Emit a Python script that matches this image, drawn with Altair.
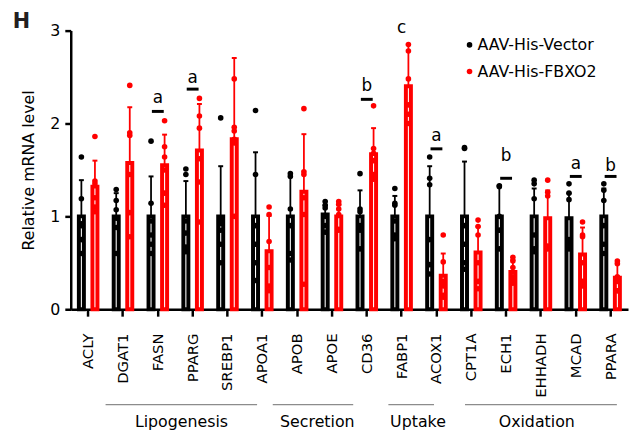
import altair as alt
import pandas as pd

genes = ["ACLY", "DGAT1", "FASN", "PPARG", "SREBP1", "APOA1", "APOB", "APOE",
         "CD36", "FABP1", "ACOX1", "CPT1A", "ECH1", "EHHADH", "MCAD", "PPARA"]
groups = ["AAV-His-Vector", "AAV-His-FBXO2"]
colors = ["#000000", "#ff0000"]

vec_mean = [1.0, 1.0, 1.0, 1.0, 1.0, 1.0, 1.0, 1.02, 1.0, 1.0, 1.0, 1.0, 1.0, 1.0, 0.98, 1.0]
vec_err = [0.39, 0.25, 0.43, 0.38, 0.54, 0.69, 0.44, 0.10, 0.28, 0.22, 0.54, 0.59, 0.33, 0.30, 0.27, 0.30]
fbx_mean = [1.32, 1.575, 1.55, 1.71, 1.83, 0.625, 1.265, 1.0, 1.67, 2.40, 0.36, 0.61, 0.40, 0.98, 0.59, 0.34]
fbx_err = [0.28, 0.60, 0.33, 0.50, 0.875, 0.38, 0.62, 0.12, 0.28, 0.45, 0.24, 0.28, 0.13, 0.30, 0.29, 0.16]

vec_pts = [
    [1.64, 1.19, 0.92, 0.90, 0.75, 0.60],
    [1.29, 1.17, 1.07, 0.98, 0.88, 0.60],
    [1.81, 1.14, 0.95, 0.80, 0.70, 0.60],
    [1.51, 1.45, 0.95, 0.82, 0.67, 0.62],
    [2.06, 0.97, 0.92, 0.85, 0.70, 0.50],
    [2.14, 1.45, 0.90, 0.70, 0.50, 0.31],
    [1.46, 1.43, 1.08, 0.90, 0.60, 0.53],
    [1.16, 1.12, 1.09, 1.00, 0.90, 0.83],
    [1.46, 1.08, 1.05, 0.90, 0.85, 0.65],
    [1.30, 1.14, 1.12, 0.95, 0.80, 0.76],
    [1.64, 1.41, 1.34, 0.75, 0.48, 0.38],
    [1.74, 1.73, 0.90, 0.70, 0.50, 0.43],
    [1.33, 1.32, 1.00, 0.85, 0.85, 0.65],
    [1.39, 1.35, 1.19, 0.80, 0.65, 0.62],
    [1.35, 1.25, 1.18, 0.75, 0.70, 0.65],
    [1.35, 1.28, 1.17, 0.90, 0.70, 0.60],
]
fbx_pts = [
    [1.86, 1.38, 1.35, 1.20, 1.10, 1.05],
    [2.41, 1.90, 1.87, 1.45, 1.04, 0.78],
    [2.03, 1.75, 1.64, 1.50, 1.25, 1.12],
    [2.27, 2.08, 1.95, 1.62, 1.37, 0.94],
    [2.48, 1.96, 1.92, 1.83, 1.79, 1.00],
    [1.10, 1.02, 0.73, 0.45, 0.25, 0.20],
    [2.16, 1.48, 1.45, 1.20, 1.02, 0.27],
    [1.16, 1.13, 1.08, 1.02, 0.86, 0.85],
    [2.19, 1.73, 1.68, 1.60, 1.45, 1.40],
    [2.85, 2.78, 2.48, 2.20, 2.10, 2.00],
    [0.80, 0.51, 0.30, 0.25, 0.15, 0.13],
    [0.96, 0.89, 0.80, 0.50, 0.30, 0.22],
    [0.56, 0.52, 0.45, 0.35, 0.30, 0.28],
    [1.39, 1.26, 1.22, 0.68, 0.66, 0.65],
    [0.94, 0.80, 0.78, 0.50, 0.30, 0.25],
    [0.52, 0.49, 0.35, 0.30, 0.20, 0.20],
]

sig_genes = ["FASN", "PPARG", "CD36", "FABP1", "ACOX1", "ECH1", "MCAD", "PPARA"]
sig_letters = ["a", "a", "b", "c", "a", "b", "a", "b"]
sig_text_y = [2.22, 2.44, 2.345, 2.975, 1.81, 1.60, 1.515, 1.49]
sig_bar_genes = ["FASN", "PPARG", "CD36", "ACOX1", "ECH1", "MCAD", "PPARA"]
sig_bar_y = [2.13, 2.37, 2.26, 1.727, 1.41, 1.43, 1.43]

group_names = ["Lipogenesis", "Secretion", "Uptake", "Oxidation"]
group_start = [1.0, 5.80, 9.12, 11.32]
group_end = [5.35, 8.11, 10.43, 15.68]
group_center = [3.18, 7.08, 9.97, 13.38]

# legend entries (position in category units / y units)
legend_x = [11.45, 11.45]
legend_y = [2.846, 2.559]

# ---- tables ----
bar_rows, pt_rows = [], []
for i, g in enumerate(genes):
    bar_rows.append(dict(gene=g, grp=groups[0], mean=vec_mean[i], top=vec_mean[i] + vec_err[i]))
    bar_rows.append(dict(gene=g, grp=groups[1], mean=fbx_mean[i], top=fbx_mean[i] + fbx_err[i]))
    for v in vec_pts[i]:
        pt_rows.append(dict(gene=g, cond=groups[0], value=v))
    for v in fbx_pts[i]:
        pt_rows.append(dict(gene=g, cond=groups[1], value=v))
bars_df = pd.DataFrame(bar_rows)
pts_df = pd.DataFrame(pt_rows)
sig_df = pd.DataFrame(dict(gene=sig_genes, letter=sig_letters, ty=sig_text_y))
sigbar_df = pd.DataFrame(dict(gene=sig_bar_genes, by=sig_bar_y))
grp_df = pd.DataFrame(dict(name=group_names, start=group_start, end=group_end, center=group_center))
leg_df = pd.DataFrame(dict(cond=groups, lx=legend_x, ly=legend_y))
h_df = pd.DataFrame(dict(t=["H"]))

W, HGT = 564, 282
FONT = "DejaVu Sans"

x_enc = alt.X("gene:N", sort=genes, title=None,
              scale=alt.Scale(domain=genes, paddingInner=0, paddingOuter=0),
              axis=alt.Axis(labelAngle=-90, labelPadding=17, tickSize=7))
off_scale = alt.Scale(domain=groups, paddingInner=0.63, paddingOuter=0.6)
xoff_bar = alt.XOffset("grp:N", sort=groups, scale=off_scale)
xoff_pt = alt.XOffset("cond:N", sort=groups, scale=off_scale)
yscale = alt.Scale(domain=[0, 3], nice=False, zero=True)
yaxis = alt.Axis(values=[0, 1, 2, 3], labelPadding=5, titlePadding=14, labelFontSize=16)


def yenc(field):
    return alt.Y(field, scale=yscale, axis=yaxis, title="Relative mRNA level")


cscale = alt.Scale(domain=groups, range=colors)

bars = alt.Chart(bars_df).mark_bar(fill="white", strokeWidth=4).encode(
    x=x_enc, xOffset=xoff_bar, y=yenc("mean:Q"),
    stroke=alt.Stroke("grp:N", scale=cscale, legend=None))

err = alt.Chart(bars_df).mark_rule(strokeWidth=1.8).encode(
    x=x_enc, xOffset=xoff_bar, y=yenc("mean:Q"), y2="top:Q",
    stroke=alt.Stroke("grp:N", scale=cscale, legend=None))

caps = alt.Chart(bars_df).mark_tick(size=5, thickness=2, opacity=1).encode(
    x=x_enc, xOffset=xoff_bar, y=yenc("top:Q"),
    fill=alt.Fill("grp:N", scale=cscale, legend=None))

points = alt.Chart(pts_df).mark_circle(size=32, opacity=1).encode(
    x=x_enc, xOffset=xoff_pt, y=yenc("value:Q"),
    color=alt.Color("cond:N", scale=cscale, sort=groups, legend=None))

sigbars = alt.Chart(sigbar_df).mark_tick(size=12, thickness=3, color="black", opacity=1).encode(
    x=x_enc, y=yenc("by:Q"))

sigtext = alt.Chart(sig_df).mark_text(fontSize=17, font=FONT, baseline="alphabetic", color="black").encode(
    x=x_enc, y=yenc("ty:Q"), text="letter:N")

main = alt.layer(bars, err, caps, points, sigbars, sigtext)

qscale = alt.Scale(domain=[0, 16], nice=False, zero=False)
glines = alt.Chart(grp_df).mark_rule(color="#8c8c8c", strokeWidth=1.2).encode(
    x=alt.X("start:Q", scale=qscale, axis=None), x2="end:Q", y=alt.value(378.5))
gtext = alt.Chart(grp_df).mark_text(fontSize=16, font=FONT, baseline="middle", color="black").encode(
    x=alt.X("center:Q", scale=qscale, axis=None), y=alt.value(396), text="name:N")
htext = alt.Chart(h_df).mark_text(fontSize=21, font=FONT, fontWeight="bold", baseline="middle",
                                  align="center", color="#231f20").encode(
    x=alt.value(-50), y=alt.value(-9), text="t:N")
leg_pts = alt.Chart(leg_df).mark_circle(size=32, opacity=1).encode(
    x=alt.X("lx:Q", scale=qscale, axis=None), y=yenc("ly:Q"),
    color=alt.Color("cond:N", scale=cscale, sort=groups, legend=None))
leg_txt = alt.Chart(leg_df).mark_text(fontSize=16, font=FONT, align="left", baseline="middle",
                                      dx=8, color="black").encode(
    x=alt.X("lx:Q", scale=qscale, axis=None), y=yenc("ly:Q"), text="cond:N")

annot = alt.layer(glines, gtext, htext, leg_pts, leg_txt)

chart = alt.layer(main, annot).resolve_scale(x="independent").properties(
    width=W, height=HGT,
    autosize=alt.AutoSizeParams(type="none"),
    padding={"left": 63.5, "top": 20.3, "right": 1, "bottom": 126},
).configure_view(stroke=None).configure_axis(
    domainColor="black", domainWidth=2.5, tickColor="black", tickWidth=2.5, tickSize=6,
    labelFont=FONT, labelFontSize=15, labelColor="black",
    titleFont=FONT, titleFontSize=16, titleFontWeight="normal", titleColor="black",
    grid=False)

chart.save("out.html", embed_options={"renderer": "svg", "actions": False})
